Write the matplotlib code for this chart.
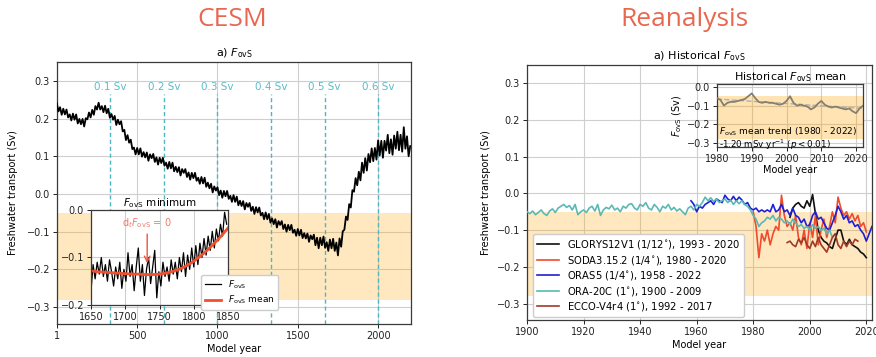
import numpy as np
import matplotlib
matplotlib.use("Agg")
import matplotlib.pyplot as plt

plt.rcParams['font.family'] = ['DejaVu Sans']
plt.rcParams['mathtext.fontset'] = 'dejavusans'
plt.rcParams['axes.unicode_minus'] = True

# ---------------- data: CESM ----------------
cesm_years = np.arange(0, 2201, 10)
cesm_fovs = [
    0.240, 0.219, 0.230, 0.210, 0.226, 0.211, 0.224, 0.203, 0.211, 0.195,
    0.213, 0.197, 0.211, 0.187, 0.199, 0.185, 0.199, 0.179, 0.201, 0.198,
    0.216, 0.203, 0.223, 0.210, 0.233, 0.224, 0.242, 0.224, 0.233, 0.217,
    0.234, 0.214, 0.226, 0.202, 0.212, 0.197, 0.207, 0.183, 0.197, 0.185,
    0.193, 0.166, 0.170, 0.143, 0.156, 0.136, 0.144, 0.119, 0.123, 0.105,
    0.122, 0.105, 0.121, 0.099, 0.111, 0.097, 0.110, 0.088, 0.105, 0.095,
    0.106, 0.085, 0.097, 0.078, 0.096, 0.082, 0.096, 0.075, 0.083, 0.067,
    0.085, 0.068, 0.083, 0.060, 0.072, 0.058, 0.071, 0.049, 0.066, 0.056,
    0.066, 0.045, 0.057, 0.038, 0.056, 0.042, 0.056, 0.035, 0.043, 0.027,
    0.045, 0.028, 0.043, 0.019, 0.030, 0.015, 0.027, 0.004, 0.020, 0.009,
    0.018, -0.003, 0.009, -0.010, 0.008, -0.006, 0.008, -0.013, -0.005, -0.021,
    -0.003, -0.021, -0.007, -0.030, -0.018, -0.032, -0.019, -0.041, -0.024, -0.034,
    -0.024, -0.045, -0.034, -0.053, -0.035, -0.049, -0.036, -0.057, -0.050, -0.067,
    -0.049, -0.067, -0.053, -0.076, -0.065, -0.080, -0.067, -0.089, -0.072, -0.082,
    -0.072, -0.093, -0.081, -0.100, -0.082, -0.096, -0.082, -0.103, -0.095, -0.111,
    -0.093, -0.110, -0.095, -0.117, -0.104, -0.118, -0.105, -0.127, -0.110, -0.120,
    -0.108, -0.136, -0.116, -0.144, -0.116, -0.136, -0.113, -0.143, -0.128, -0.151,
    -0.121, -0.144, -0.119, -0.151, -0.129, -0.163, -0.118, -0.140, -0.099, -0.095,
    -0.060, -0.069, -0.027, -0.036, 0.010, 0.006, 0.042, 0.023, 0.059, 0.036,
    0.083, 0.056, 0.095, 0.062, 0.106, 0.084, 0.121, 0.087, 0.122, 0.091,
    0.142, 0.102, 0.141, 0.096, 0.141, 0.115, 0.157, 0.108, 0.145, 0.104,
    0.155, 0.120, 0.165, 0.116, 0.157, 0.112, 0.177, 0.120, 0.153, 0.100,
    0.127,
]
thresh_years = [333, 667, 1000, 1333, 1667, 2000]
thresh_labels = ['0.1 Sv', '0.2 Sv', '0.3 Sv', '0.4 Sv', '0.5 Sv', '0.6 Sv']
band_lo, band_hi = -0.28, -0.05

inset_years = np.arange(1650, 1849, 3)
inset_fovs = [
    -0.170, -0.115, -0.145, -0.110, -0.135, -0.100, -0.140, -0.115, -0.150, -0.105,
    -0.130, -0.160, -0.120, -0.145, -0.110, -0.165, -0.125, -0.150, -0.090, -0.140,
    -0.115, -0.170, -0.120, -0.080, -0.150, -0.115, -0.180, -0.125, -0.100, -0.155,
    -0.120, -0.085, -0.185, -0.130, -0.160, -0.110, -0.140, -0.120, -0.150, -0.105,
    -0.135, -0.110, -0.145, -0.100, -0.130, -0.090, -0.140, -0.095, -0.125, -0.080,
    -0.120, -0.075, -0.115, -0.070, -0.100, -0.060, -0.095, -0.055, -0.085, -0.045,
    -0.080, -0.040, -0.065, -0.030, -0.055, -0.005, -0.030,
]
mean_years = np.arange(1650, 1851, 10)
mean_fovs = [-0.128, -0.130, -0.131, -0.132, -0.133, -0.134, -0.135, -0.135, -0.136, -0.136,
             -0.135, -0.133, -0.129, -0.124, -0.117, -0.108, -0.097, -0.084, -0.070, -0.055,
             -0.038]
min_year = 1732

# ---------------- data: Reanalysis ----------------
ora20c_years = np.arange(1900, 2010)
ora20c = [
    -0.050, -0.055, -0.048, -0.058, -0.052, -0.045, -0.055, -0.060, -0.048, -0.042,
    -0.052, -0.040, -0.035, -0.030, -0.038, -0.033, -0.045, -0.030, -0.058, -0.050,
    -0.045, -0.052, -0.040, -0.035, -0.048, -0.030, -0.060, -0.045, -0.038, -0.042,
    -0.032, -0.045, -0.040, -0.050, -0.035, -0.040, -0.030, -0.028, -0.040, -0.045,
    -0.030, -0.035, -0.025, -0.040, -0.045, -0.030, -0.038, -0.050, -0.035, -0.040,
    -0.030, -0.045, -0.038, -0.048, -0.042, -0.050, -0.058, -0.040, -0.035, -0.045,
    -0.030, -0.035, -0.025, -0.010, -0.020, -0.012, -0.022, -0.015, -0.025, -0.020,
    -0.015, -0.025, -0.018, -0.030, -0.020, -0.028, -0.020, -0.030, -0.035, -0.045,
    -0.060, -0.070, -0.090, -0.080, -0.075, -0.065, -0.070, -0.060, -0.075, -0.065,
    -0.070, -0.080, -0.075, -0.085, -0.070, -0.080, -0.090, -0.085, -0.095, -0.090,
    -0.100, -0.085, -0.095, -0.090, -0.100, -0.095, -0.110, -0.100, -0.120, -0.110,
]
oras5_years = np.arange(1958, 2023)
oras5 = [
    -0.020, -0.030, -0.050, -0.035, -0.040, -0.030, -0.025, -0.020, -0.030, -0.015,
    -0.020, -0.025, -0.005, -0.015, -0.020, -0.008, -0.020, -0.010, -0.018, -0.030,
    -0.025, -0.040,
    -0.045, -0.040, -0.050, -0.045, -0.050, -0.045, -0.050, -0.030, -0.050, -0.045,
    -0.030, -0.050, -0.045, -0.060, -0.040, -0.060, -0.065, -0.080, -0.070, -0.090,
    -0.085, -0.060, -0.050, -0.070, -0.065, -0.080, -0.095, -0.100, -0.080, -0.060,
    -0.035, -0.050, -0.070, -0.060, -0.080, -0.075, -0.090, -0.085, -0.100, -0.110,
    -0.130, -0.110, -0.090,
]
soda_years = np.arange(1980, 2021)
soda = [
    -0.050, -0.090, -0.175, -0.110, -0.130, -0.100, -0.140, -0.110, -0.090, -0.100,
    -0.005, -0.060, -0.090, -0.080, -0.100, -0.060, -0.120, -0.140, -0.100, -0.150,
    -0.080, -0.120, -0.060, -0.140, -0.100, -0.070, -0.120, -0.090, -0.050, -0.080,
    -0.010, -0.040, -0.060, -0.050, -0.070, -0.055, -0.075, -0.060, -0.090, -0.080,
    -0.105,
]
glorys_years = np.arange(1993, 2021)
glorys = [
    -0.065, -0.040, -0.030, -0.025, -0.035, -0.040, -0.020, -0.035, -0.003, -0.055,
    -0.100, -0.120, -0.130, -0.135, -0.145, -0.150, -0.125, -0.100, -0.100, -0.130,
    -0.140, -0.125, -0.140, -0.145, -0.150, -0.160, -0.165, -0.175,
]
ecco_years = np.arange(1992, 2018)
ecco = [
    -0.134, -0.130, -0.140, -0.145, -0.125, -0.135, -0.120, -0.140, -0.150, -0.130,
    -0.145, -0.120, -0.140, -0.150, -0.160, -0.140, -0.120, -0.110, -0.140, -0.150,
    -0.130, -0.145, -0.130, -0.140, -0.125, -0.130,
]
hist_mean_years = np.arange(1980, 2023)
hist_mean = [
    -0.060, -0.070, -0.100, -0.085, -0.080, -0.080, -0.075, -0.070, -0.065, -0.050,
    -0.035, -0.060, -0.080, -0.085, -0.080, -0.085, -0.085, -0.090, -0.095, -0.090,
    -0.075, -0.050, -0.085, -0.100, -0.095, -0.100, -0.105, -0.120, -0.110, -0.090,
    -0.075, -0.095, -0.105, -0.110, -0.105, -0.110, -0.115, -0.120, -0.115, -0.130,
    -0.140, -0.115, -0.100,
]
trend_years = [1980, 2022]
trend_vals = [-0.065, -0.115]

series_labels = ['GLORYS12V1 (1/12$^{\\circ}$), 1993 - 2020',
                 'SODA3.15.2 (1/4$^{\\circ}$), 1980 - 2020',
                 'ORAS5 (1/4$^{\\circ}$), 1958 - 2022',
                 'ORA-20C (1$^{\\circ}$), 1900 - 2009',
                 'ECCO-V4r4 (1$^{\\circ}$), 1992 - 2017']
series_colors = ['#111111', '#f04b2e', '#1f1fd6', '#5ab9b4', '#a03a28']

# ---------------- style ----------------
FOVS = r'$F_{\mathrm{ovS}}$'
grid_c = '#cfcfcf'
band_c = '#ffa500'
band_a = 0.25
spine_c = '#3a3a3a'
head_c = '#e8674f'
tick_fs = 7

def style_axes(a, fs=tick_fs):
    a.grid(True, color=grid_c, lw=0.8)
    a.set_axisbelow(True)
    a.tick_params(labelsize=fs, length=3, width=0.7, colors='#222222', pad=2)
    for s in a.spines.values():
        s.set_color(spine_c)
        s.set_linewidth(0.9)

fig = plt.figure(figsize=(8.76, 3.57), dpi=100)

fig.text(232 / 876, 1 - 20 / 357, 'CESM', ha='center', va='center',
         fontsize=19, color=head_c, family='Open Sans')
fig.text(684 / 876, 1 - 20 / 357, 'Reanalysis', ha='center', va='center',
         fontsize=19, color=head_c, family='Open Sans')

# ---------------- left: CESM ----------------
ax1 = fig.add_axes([0.0651, 0.0924, 0.4041, 0.7339])
style_axes(ax1)
ax1.axhspan(band_lo, band_hi, color=band_c, alpha=band_a, lw=0, zorder=1)
ax1.plot(cesm_years, cesm_fovs, color='k', lw=1.3, zorder=3)
ax1.vlines(thresh_years, -0.345, 0.265, colors='#4fb6c4', linestyles=(0, (3, 2)),
           lw=1.0, zorder=2)
for yr, lab in zip(thresh_years, thresh_labels):
    ax1.text(yr, 0.283, lab, ha='center', va='center', fontsize=7.5, color='#5cbcc8')
ax1.set_xlim(1, 2205)
ax1.set_ylim(-0.345, 0.35)
ax1.set_xticks([1, 500, 1000, 1500, 2000])
ax1.set_yticks([-0.3, -0.2, -0.1, 0.0, 0.1, 0.2, 0.3])
ax1.set_title(r'a) ' + FOVS, fontsize=8, pad=4)
ax1.set_ylabel('Freshwater transport (Sv)', fontsize=7, labelpad=6)
ax1.set_xlabel('Model year', fontsize=7, labelpad=2)

axin1 = fig.add_axes([0.1039, 0.1457, 0.1564, 0.2661])
style_axes(axin1)
l1, = axin1.plot(inset_years, inset_fovs, color='k', lw=0.9)
l2, = axin1.plot(mean_years, mean_fovs, color='#f0502e', lw=2.0)
axin1.set_xlim(1650, 1850)
axin1.set_ylim(-0.2, 0.0)
axin1.set_xticks([1650, 1700, 1750, 1800, 1850])
axin1.set_yticks([-0.2, -0.1, 0.0])
axin1.set_title(FOVS + ' minimum', fontsize=7.5, pad=2)
axin1.annotate('', xy=(min_year, -0.118), xytext=(min_year, -0.045),
               arrowprops=dict(arrowstyle='->', color='#e8553f', lw=1.0))
axin1.text(min_year, -0.028, r'd$_t$' + FOVS + ' = 0', ha='center', va='center',
           fontsize=7, color='#f07a6a')
axin1.legend([l1, l2], [FOVS, FOVS + ' mean'], loc='upper left',
             bbox_to_anchor=(0.2295, 0.2297), bbox_transform=fig.transFigure,
             fontsize=6.5, borderaxespad=0, handlelength=1.8, borderpad=0.4,
             labelspacing=0.3, framealpha=1)

# ---------------- right: Reanalysis ----------------
ax2 = fig.add_axes([0.6016, 0.1036, 0.3938, 0.7143])
style_axes(ax2)
ax2.axhspan(band_lo, band_hi, color=band_c, alpha=band_a, lw=0, zorder=1)
series = [(glorys_years, glorys), (soda_years, soda), (oras5_years, oras5),
          (ora20c_years, ora20c), (ecco_years, ecco)]
handles = []
for (xx, yy), lab, c in zip(series, series_labels, series_colors):
    h, = ax2.plot(xx, yy, color=c, lw=1.2, label=lab, zorder=3)
    handles.append(h)
ax2.set_xlim(1900, 2022)
ax2.set_ylim(-0.345, 0.35)
ax2.set_xticks(np.arange(1900, 2021, 20))
ax2.set_yticks([-0.3, -0.2, -0.1, 0.0, 0.1, 0.2, 0.3])
ax2.set_title(r'a) Historical ' + FOVS, fontsize=8, pad=4)
ax2.set_ylabel('Freshwater transport (Sv)', fontsize=7)
ax2.set_xlabel('Model year', fontsize=7, labelpad=2)
ax2.legend(handles=handles, loc='lower left', bbox_to_anchor=(0.6084, 0.1120),
           bbox_transform=fig.transFigure, fontsize=7.2, borderaxespad=0,
           handlelength=2.2, borderpad=0.4, labelspacing=0.25, framealpha=1)

axin2 = fig.add_axes([0.8185, 0.5882, 0.1667, 0.1765])
style_axes(axin2)
axin2.axhspan(band_lo, band_hi, color=band_c, alpha=0.3, lw=0, zorder=1)
axin2.plot(trend_years, trend_vals, color='#b0b0b0', lw=1.0, ls='--', zorder=2)
axin2.plot(hist_mean_years, hist_mean, color='#857f72', lw=1.3, zorder=3)
axin2.set_xlim(1980, 2022)
axin2.set_ylim(-0.32, 0.015)
axin2.set_xticks([1980, 1990, 2000, 2010, 2020])
axin2.set_yticks([-0.3, -0.2, -0.1, 0.0])
axin2.set_title('Historical ' + FOVS + ' mean', fontsize=8, pad=3)
axin2.set_ylabel(FOVS + ' (Sv)', fontsize=7, labelpad=2)
axin2.set_xlabel('Model year', fontsize=7, labelpad=1)
axin2.text(1980.6, -0.238, FOVS + ' mean trend (1980 - 2022)', fontsize=6.5,
           va='center', ha='left', zorder=4)
axin2.text(1980.6, -0.306, r'-1.20 mSv yr$^{-1}$ ($p < 0.01$)', fontsize=6.3,
           va='center', ha='left', zorder=4)

fig.savefig('out.png', dpi=100)
